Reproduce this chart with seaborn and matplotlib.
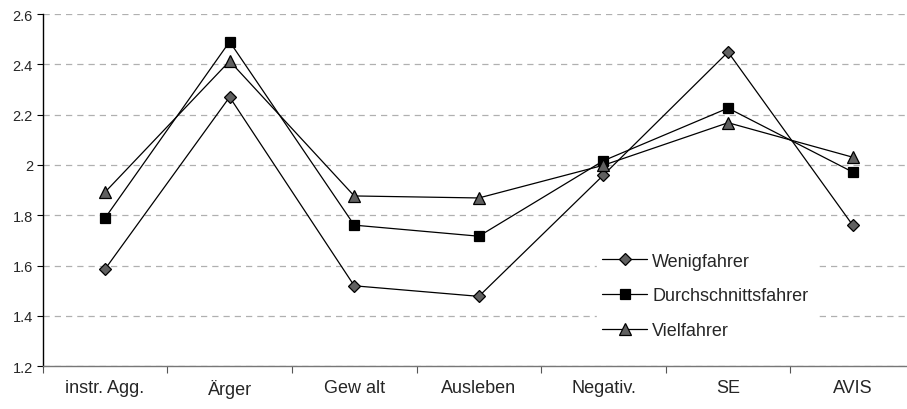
import matplotlib
matplotlib.use("Agg")
import matplotlib.pyplot as plt
import seaborn as sns
import numpy as np
import pandas as pd
from matplotlib.lines import Line2D

categories = ["instr. Agg.", "Ärger", "Gew alt", "Ausleben", "Negativ.", "SE", "AVIS"]
wenigfahrer = [1.586, 2.27, 1.52, 1.478, 1.96, 2.449, 1.761]
durchschnittsfahrer = [1.789, 2.49, 1.761, 1.717, 2.017, 2.226, 1.972]
vielfahrer = [1.892, 2.413, 1.877, 1.869, 1.999, 2.168, 2.031]
series_names = ["Wenigfahrer", "Durchschnittsfahrer", "Vielfahrer"]
y_ticks = [1.2, 1.4, 1.6, 1.8, 2.0, 2.2, 2.4, 2.6]
y_tick_labels = ["1.2", "1.4", "1.6", "1.8", "2", "2.2", "2.4", "2.6"]

sns.set_style("white")
plt.rcParams["font.family"] = ["Liberation Sans", "DejaVu Sans"]

frames = []
for name, vals in zip(series_names, [wenigfahrer, durchschnittsfahrer, vielfahrer]):
    frames.append(pd.DataFrame({"pos": np.arange(len(categories)), "wert": vals, "gruppe": name}))
df = pd.concat(frames, ignore_index=True)

styles = {
    "Wenigfahrer": dict(marker="D", color="#606060", ms=6),
    "Durchschnittsfahrer": dict(marker="s", color="#000000", ms=7.2),
    "Vielfahrer": dict(marker="^", color="#606060", ms=8.5),
}

fig = plt.figure(figsize=(9.07, 4.10), dpi=100)
ax = fig.add_axes([0.0471, 0.1041, 0.9617, 0.8593])

for name in series_names:
    st = styles[name]
    sns.lineplot(data=df[df["gruppe"] == name], x="pos", y="wert", ax=ax,
                 color="black", linewidth=0.9, marker=st["marker"],
                 markersize=st["ms"], markerfacecolor=st["color"],
                 markeredgecolor="black", markeredgewidth=0.9,
                 legend=False, zorder=3)

ax.set_xlim(-0.5, len(categories) - 0.5)
ax.set_ylim(1.2, 2.6)
ax.set_xlabel("")
ax.set_ylabel("")

# category boundaries carry the tick marks; names sit at centres
ax.set_xticks(np.arange(len(categories)) - 0.5)
ax.set_xticklabels([])
ax.set_xticks(np.arange(len(categories)), minor=True)
ax.set_xticklabels(categories, minor=True, fontsize=13)
ax.tick_params(axis="x", which="major", direction="out", length=5, width=0.8,
               color="#555555", bottom=True)
ax.tick_params(axis="x", which="minor", length=0, pad=9)

ax.set_yticks(y_ticks)
ax.set_yticklabels(y_tick_labels, fontsize=10.5)
ax.tick_params(axis="y", direction="out", length=4, width=0.8, color="black",
               left=True, pad=3)

ax.yaxis.grid(True, linestyle=(0, (5, 4)), color="#b0b0b0", linewidth=0.9)
ax.xaxis.grid(False)
ax.set_axisbelow(True)

for s in ["top", "right"]:
    ax.spines[s].set_visible(False)
ax.spines["left"].set_color("black")
ax.spines["left"].set_linewidth(1.0)
ax.spines["bottom"].set_color("#777777")
ax.spines["bottom"].set_linewidth(1.0)

handles = [Line2D([0], [0], color="black", linewidth=0.9, marker=styles[n]["marker"],
                  markersize=styles[n]["ms"], markerfacecolor=styles[n]["color"],
                  markeredgecolor="black", markeredgewidth=0.9) for n in series_names]
leg = ax.legend(handles, series_names, loc="center left",
                bbox_to_anchor=(597 / 907, 1 - 297 / 410), bbox_transform=fig.transFigure,
                borderaxespad=0, frameon=True, fontsize=13,
                handlelength=2.45, handletextpad=0.3, labelspacing=0.98,
                borderpad=0.3, fancybox=False)
leg.get_frame().set_edgecolor("white")
leg.get_frame().set_facecolor("white")
leg.get_frame().set_alpha(1.0)

fig.savefig("out.png", dpi=100)
